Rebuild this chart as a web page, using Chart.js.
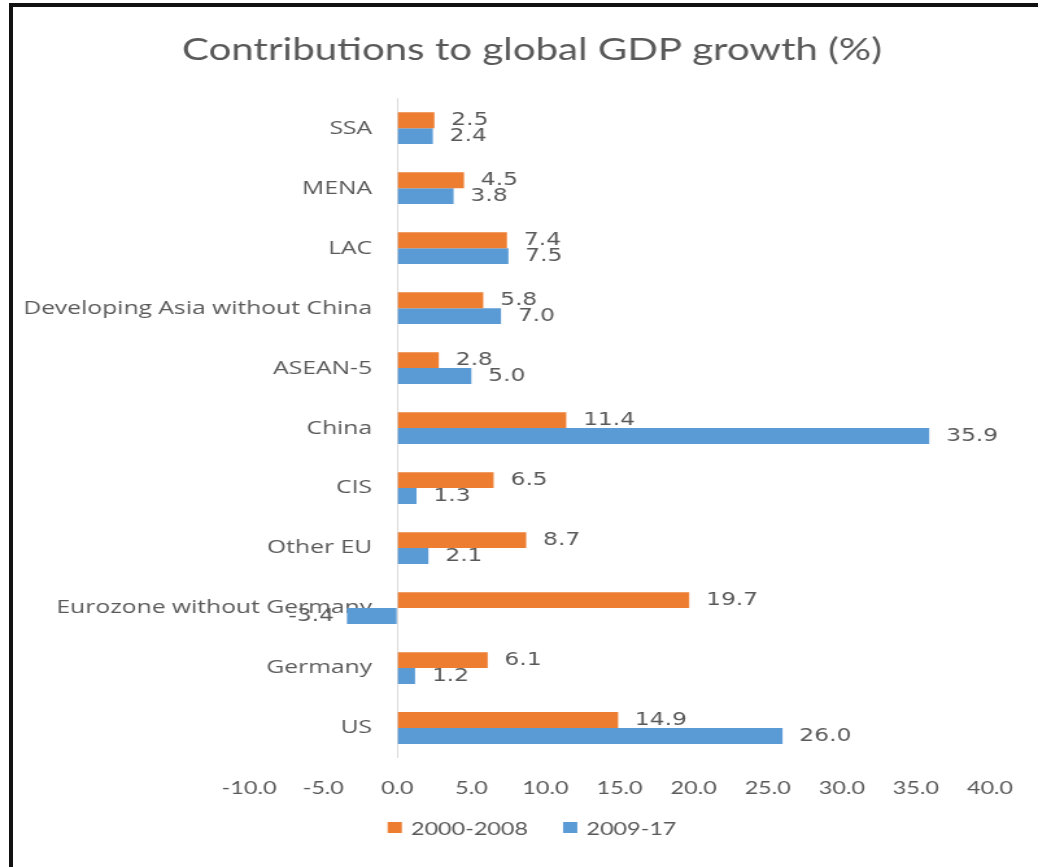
<!DOCTYPE html>
<html>
<head>
<meta charset="utf-8">
<script src="https://cdn.jsdelivr.net/npm/chart.js@4.4.1/dist/chart.umd.min.js"></script>
<style>
  html, body { margin: 0; padding: 0; background: #fff; overflow: hidden; }
  #wrap { position: absolute; left: 0; top: 0; width: 800px; height: 867px; transform: scaleX(1.2975); transform-origin: 0 0; }
  #graf { display: block; }
  .borda { position: absolute; background: #111; z-index: 5; }
</style>
</head>
<body>
<div id="wrap"><canvas id="graf" width="800" height="867"></canvas></div>
<div class="borda" style="left:9px; top:3px; width:1029px; height:4px;"></div>
<div class="borda" style="left:9px; top:3px; width:4px; height:864px;"></div>
<script>
// Dados do gráfico (de cima para baixo)
const regioes = ["SSA", "MENA", "LAC", "Developing Asia without China", "ASEAN-5", "China", "CIS", "Other EU", "Eurozone without Germany", "Germany", "US"];
const periodo1 = [2.5, 4.5, 7.4, 5.8, 2.8, 11.4, 6.5, 8.7, 19.7, 6.1, 14.9];
const periodo2 = [2.4, 3.8, 7.5, 7.0, 5.0, 35.9, 1.3, 2.1, -3.4, 1.2, 26.0];
const nomesSeries = ["2000-2008", "2009-17"];
const coresSeries = ['#ED7D31', '#5B9BD5'];
const eixoMin = -10;
const eixoMax = 40;
const passo = 5;

const corTexto = '#595959';

// Plugin simples para escrever o valor no fim de cada barra
const rotulosBarras = {
    id: 'rotulosBarras',
    afterDatasetsDraw(chart) {
        const ctx = chart.ctx;
        ctx.save();
        ctx.font = '18px "DejaVu Sans"';
        ctx.fillStyle = corTexto;
        ctx.textBaseline = 'middle';
        chart.data.datasets.forEach((ds, i) => {
            const meta = chart.getDatasetMeta(i);
            meta.data.forEach((barra, j) => {
                const valor = ds.data[j];
                if (valor >= 0) {
                    ctx.textAlign = 'left';
                    ctx.fillText(valor.toFixed(1), barra.x + 13, barra.y);
                } else {
                    ctx.textAlign = 'right';
                    ctx.fillText(valor.toFixed(1), barra.x - 10, barra.y);
                }
            });
        });
        ctx.restore();
    }
};

// Legenda desenhada à mão, embaixo do eixo
const legendaEmbaixo = {
    id: 'legendaEmbaixo',
    afterDraw(chart) {
        const ctx = chart.ctx;
        const caixa = 11, folga = 7, espaco = 27;
        const centroX = 410, centroY = 829;
        ctx.save();
        ctx.font = '18px Lato';
        ctx.textBaseline = 'middle';
        ctx.textAlign = 'left';
        const larguras = chart.data.datasets.map(ds => ctx.measureText(ds.label).width);
        let total = espaco * (larguras.length - 1);
        larguras.forEach(l => { total += caixa + folga + l; });
        let x = centroX - total / 2;
        chart.data.datasets.forEach((ds, i) => {
            ctx.fillStyle = ds.backgroundColor;
            ctx.fillRect(x, centroY - 7, caixa, caixa);
            ctx.fillStyle = corTexto;
            ctx.fillText(ds.label, x + caixa + folga, centroY);
            x += caixa + folga + larguras[i] + espaco;
        });
        ctx.restore();
    }
};

const ctx = document.getElementById('graf').getContext('2d');
const grafico = new Chart(ctx, {
    type: 'bar',
    data: {
        labels: regioes,
        datasets: [{
            label: nomesSeries[0],
            data: periodo1,
            backgroundColor: coresSeries[0],
            categoryPercentage: 0.53,
            barPercentage: 1.0
        }, {
            label: nomesSeries[1],
            data: periodo2,
            backgroundColor: coresSeries[1],
            categoryPercentage: 0.53,
            barPercentage: 1.0
        }]
    },
    options: {
        indexAxis: 'y',
        responsive: false,
        animation: false,
        layout: {
            padding: { left: 20, right: 0, top: 8, bottom: 59 }
        },
        scales: {
            x: {
                min: eixoMin,
                max: eixoMax,
                // só a linha do zero aparece
                grid: {
                    display: true,
                    drawTicks: false,
                    lineWidth: 1,
                    color: c => (c.tick && c.tick.value === 0) ? '#D9D9D9' : 'rgba(0,0,0,0)'
                },
                border: { display: false },
                ticks: {
                    stepSize: passo,
                    padding: 19,
                    color: corTexto,
                    font: { family: 'Lato', size: 18 },
                    callback: v => v.toFixed(1)
                },
                afterFit: s => { s.height = 50; }
            },
            y: {
                position: { x: -1.7 },
                grid: { display: false },
                border: { display: false },
                ticks: {
                    color: corTexto,
                    font: { family: 'Open Sans', size: 19 }
                }
            },
            // eixos vazios só para reservar espaço nas laterais
            yEsq: {
                type: 'linear',
                axis: 'y',
                position: 'left',
                grid: { display: false },
                border: { display: false },
                ticks: { display: false },
                afterFit: s => { s.width = 172; }
            },
            yDir: {
                type: 'linear',
                axis: 'y',
                position: 'right',
                grid: { display: false },
                border: { display: false },
                ticks: { display: false },
                afterFit: s => { s.width = 37; }
            }
        },
        plugins: {
            title: {
                display: true,
                text: 'Contributions to global GDP growth (%)',
                color: corTexto,
                font: { family: 'Lato', size: 31, weight: 'normal' },
                padding: { top: 23, bottom: 30 }
            },
            legend: { display: false },
            tooltip: { enabled: false }
        }
    },
    plugins: [rotulosBarras, legendaEmbaixo]
});
</script>
</body>
</html>
